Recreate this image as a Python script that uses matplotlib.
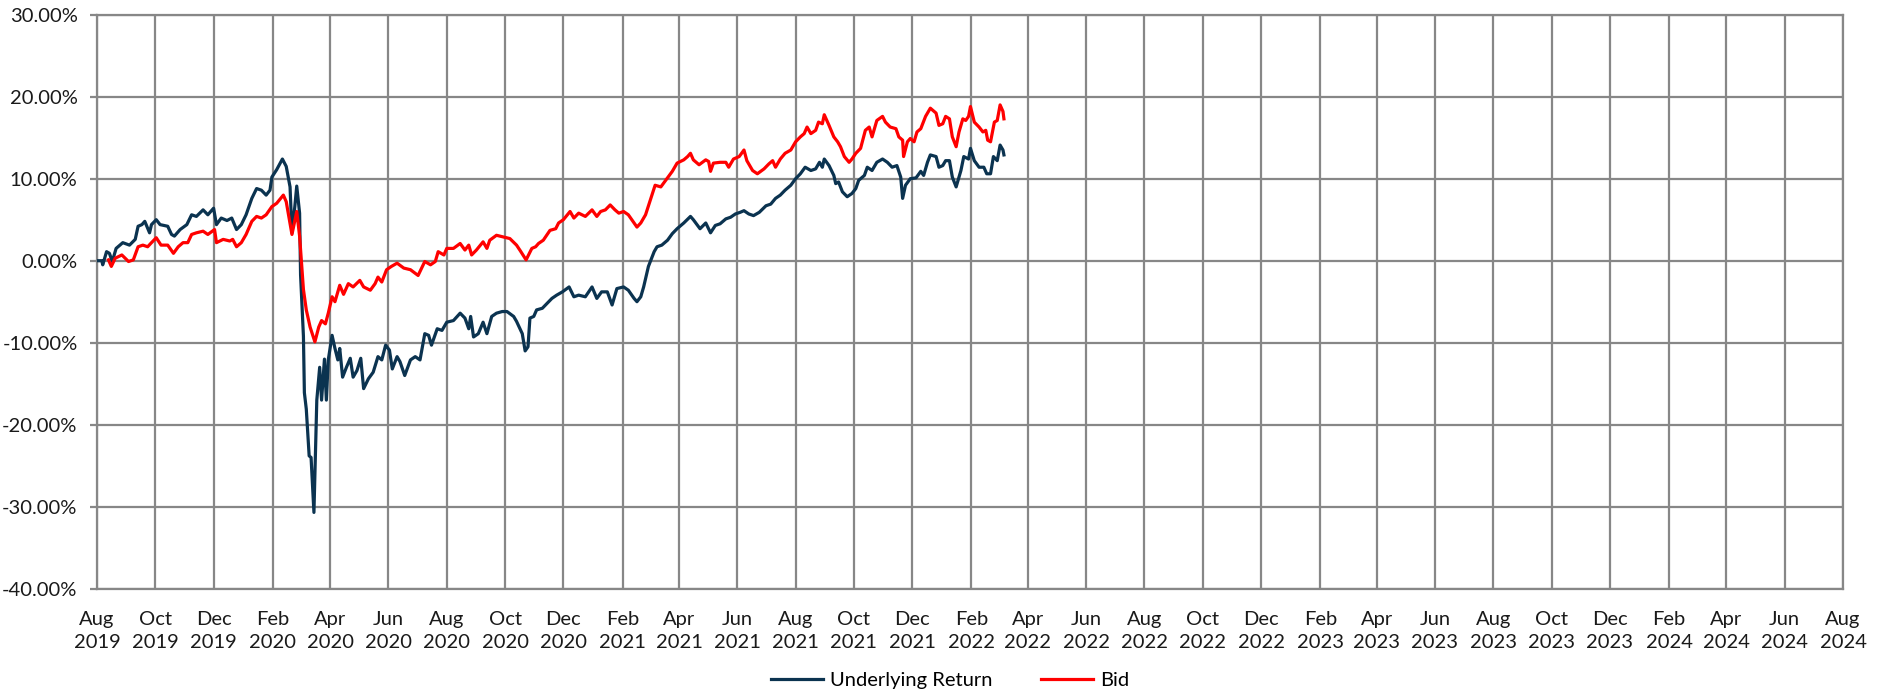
import matplotlib
matplotlib.use("Agg")
import matplotlib.pyplot as plt
import matplotlib.dates as mdates
import pandas as pd

# ---- data (days since 2019-08-01, percent values) ----
start_date = "2019-08-01"

under_days = [0, 5, 6, 10, 13, 16, 20, 27, 34, 40, 43, 47, 50, 55, 57, 62, 66, 74, 78, 81, 87, 94, 99, 104,
              111, 116, 122, 125, 130, 136, 141, 146, 151, 156, 162, 167, 172, 177, 181, 183, 188, 194, 198,
              202, 204, 207, 209, 212, 213, 216, 217, 219, 222, 224, 227, 230, 233, 235, 238, 240, 242, 246,
              249, 252, 254, 257, 261, 265, 268, 272, 276, 279, 284, 289, 294, 298, 302, 306, 309, 314, 317,
              322, 328, 333, 338, 343, 347, 350, 356, 361, 366, 373, 380, 385, 389, 391, 394, 399, 404, 408,
              413, 418, 424, 429, 436, 439, 445, 448, 451, 453, 457, 460, 466, 471, 476, 481, 487, 494, 499,
              504, 511, 518, 523, 528, 534, 539, 544, 551, 556, 562, 565, 569, 572, 577, 583, 586, 591, 597,
              602, 607, 614, 621, 624, 631, 637, 642, 647, 652, 658, 663, 668, 673, 677, 682, 687, 693, 700,
              705, 710, 715, 720, 726, 731, 736, 741, 747, 752, 756, 759, 761, 766, 771, 773, 776, 780, 785,
              790, 794, 797, 803, 806, 811, 816, 822, 827, 832, 837, 841, 843, 846, 851, 857, 862, 865, 869,
              872, 878, 881, 885, 888, 892, 895, 899, 904, 907, 912, 914, 918, 923, 928, 931, 935, 938, 942,
              945, 948, 949]
under_vals = [0.0, 0.0, -0.5, 1.1, 0.9, -0.1, 1.5, 2.2, 1.9, 2.6, 4.2, 4.4, 4.8, 3.4, 4.4, 5.0, 4.4, 4.2, 3.2,
              3.0, 3.8, 4.4, 5.6, 5.4, 6.2, 5.6, 6.4, 4.4, 5.2, 4.9, 5.2, 3.8, 4.4, 5.6, 7.6, 8.8, 8.6, 8.0,
              8.6, 10.2, 11.1, 12.4, 11.5, 9.0, 3.4, 6.6, 9.1, 5.8, -1.7, -9.2, -16.1, -18.1, -23.8, -24.0,
              -30.7, -17.0, -13.0, -17.0, -12.0, -17.0, -12.1, -9.1, -10.7, -12.1, -10.7, -14.2, -13.0, -11.9,
              -14.2, -13.4, -11.9, -15.6, -14.4, -13.6, -11.7, -12.1, -10.3, -10.9, -13.2, -11.7, -12.3, -14.0,
              -12.1, -11.7, -12.1, -8.9, -9.1, -10.3, -8.3, -8.5, -7.5, -7.3, -6.4, -7.0, -8.3, -6.8, -9.3,
              -8.9, -7.5, -8.9, -6.8, -6.4, -6.2, -6.2, -6.8, -7.4, -8.9, -11.0, -10.5, -7.0, -6.8, -6.0, -5.8,
              -5.2, -4.6, -4.2, -3.8, -3.2, -4.4, -4.2, -4.4, -3.2, -4.6, -3.8, -3.8, -5.4, -3.4, -3.2, -3.6,
              -4.6, -5.0, -4.4, -3.2, -0.7, 1.1, 1.7, 1.9, 2.5, 3.3, 3.9, 4.6, 5.4, 5.0, 3.9, 4.6, 3.4, 4.3,
              4.5, 5.1, 5.3, 5.7, 5.9, 6.1, 5.7, 5.5, 5.9, 6.7, 6.9, 7.6, 8.0, 8.6, 9.2, 10.0, 10.6, 11.4,
              11.0, 11.2, 12.0, 11.4, 12.4, 11.6, 10.4, 9.4, 9.6, 8.4, 7.8, 8.2, 8.8, 9.8, 10.4, 11.4, 11.0,
              12.0, 12.4, 12.0, 11.4, 11.6, 10.2, 7.6, 9.2, 10.0, 10.1, 10.9, 10.4, 12.0, 12.9, 12.7, 11.4,
              11.6, 12.2, 12.2, 10.2, 9.0, 11.0, 12.7, 12.4, 13.7, 12.2, 11.4, 11.4, 10.6, 10.6, 12.7, 12.2,
              14.1, 13.5, 12.9]

bid_days = [12, 15, 19, 26, 33, 38, 43, 48, 53, 57, 62, 67, 74, 80, 85, 90, 95, 99, 104, 111, 116, 123, 125,
            132, 139, 142, 146, 151, 156, 162, 167, 172, 177, 183, 188, 195, 198, 204, 209, 212, 216, 219, 223,
            228, 232, 235, 239, 242, 246, 249, 254, 258, 263, 268, 275, 279, 286, 291, 294, 298, 303, 308, 314,
            321, 328, 336, 343, 349, 354, 357, 363, 366, 373, 380, 385, 389, 392, 397, 404, 408, 411, 418, 425,
            432, 439, 443, 449, 455, 459, 462, 467, 474, 480, 483, 488, 495, 499, 504, 511, 518, 523, 527, 532,
            537, 542, 546, 551, 556, 562, 565, 569, 574, 579, 584, 590, 595, 602, 607, 614, 618, 621, 624, 630,
            637, 640, 642, 645, 652, 658, 661, 666, 672, 677, 680, 686, 691, 698, 703, 707, 710, 715, 720, 726,
            731, 736, 740, 743, 747, 752, 755, 759, 761, 766, 771, 775, 778, 782, 787, 790, 794, 799, 804, 808,
            811, 816, 822, 825, 830, 836, 839, 843, 844, 848, 851, 855, 858, 862, 867, 872, 878, 881, 885, 888,
            892, 895, 899, 902, 906, 909, 912, 914, 918, 923, 927, 930, 932, 935, 939, 942, 945, 948, 949]
bid_vals = [0.1, -0.7, 0.3, 0.7, -0.1, 0.1, 1.7, 1.9, 1.7, 2.2, 2.8, 1.9, 1.9, 0.9, 1.7, 2.2, 2.2, 3.2, 3.4,
            3.6, 3.2, 3.8, 2.2, 2.6, 2.4, 2.6, 1.7, 2.2, 3.2, 4.8, 5.4, 5.2, 5.6, 6.6, 7.0, 8.0, 7.2, 3.2, 6.0,
            3.0, -3.5, -6.0, -8.1, -9.9, -8.1, -7.3, -7.7, -6.4, -4.4, -5.0, -3.0, -4.1, -2.8, -3.2, -2.4, -3.2,
            -3.6, -2.8, -2.0, -2.6, -1.1, -0.7, -0.3, -0.9, -1.1, -1.8, -0.1, -0.5, -0.1, 1.1, 0.7, 1.5, 1.5,
            2.1, 1.3, 1.9, 0.7, 1.3, 2.3, 1.5, 2.5, 3.1, 2.9, 2.7, 1.9, 1.2, 0.1, 1.5, 1.7, 2.1, 2.5, 3.7, 3.9,
            4.6, 5.0, 6.0, 5.2, 5.8, 5.4, 6.2, 5.4, 6.0, 6.2, 6.8, 6.2, 5.8, 6.0, 5.6, 4.6, 4.1, 4.6, 5.6, 7.4,
            9.2, 9.0, 9.8, 10.9, 11.9, 12.3, 12.7, 13.1, 12.3, 11.7, 12.3, 12.1, 10.9, 11.9, 12.0, 12.0, 11.4,
            12.4, 12.7, 13.5, 12.2, 11.0, 10.6, 11.2, 11.8, 12.2, 11.4, 12.4, 13.1, 13.5, 14.5, 15.1, 15.5,
            16.3, 15.5, 15.9, 16.9, 16.7, 17.8, 16.5, 15.1, 14.5, 13.9, 12.7, 12.0, 12.4, 13.1, 13.7, 15.9,
            16.3, 15.1, 17.1, 17.6, 16.9, 16.3, 16.1, 15.1, 14.7, 12.7, 14.5, 14.9, 14.5, 15.7, 16.1, 17.6,
            18.6, 18.0, 16.5, 16.7, 17.6, 17.3, 15.1, 13.9, 15.7, 17.3, 17.1, 17.6, 18.8, 16.9, 16.3, 15.7,
            15.9, 14.7, 14.5, 16.9, 17.1, 19.0, 18.2, 17.3]

series_names = ["Underlying Return", "Bid"]
series_colors = ["#0B3350", "#FF0000"]
y_ticks = [-40, -30, -20, -10, 0, 10, 20, 30]
x_start, x_end = "2019-08-01", "2024-08-01"

# ---- build ----
base = pd.Timestamp(start_date)
under_x = base + pd.to_timedelta(under_days, unit="D")
bid_x = base + pd.to_timedelta(bid_days, unit="D")

plt.rcParams['font.family'] = ['Lato', 'DejaVu Sans']
W, H = 1877, 692
fig = plt.figure(figsize=(W / 100, H / 100), dpi=100)
ax = fig.add_axes([97 / W, 1 - 588.7 / H, (1843 - 97) / W, (588.7 - 14.7) / H])

grid_c = "#878787"
ax.plot(under_x, under_vals, color=series_colors[0], lw=2.3, label=series_names[0], zorder=3)
ax.plot(bid_x, bid_vals, color=series_colors[1], lw=2.3, label=series_names[1], zorder=4)

ax.set_xlim(pd.Timestamp(x_start), pd.Timestamp(x_end))
ax.set_ylim(-40, 30)
ax.set_yticks(y_ticks)
ax.set_yticklabels([f"{v:.2f}%" for v in y_ticks])
ax.xaxis.set_major_locator(mdates.MonthLocator(bymonth=[2, 4, 6, 8, 10, 12], bymonthday=1))
ax.xaxis.set_major_formatter(mdates.DateFormatter("%b\n%Y"))

ax.grid(True, color=grid_c, lw=1.6, zorder=0)
for s in ax.spines.values():
    s.set_color(grid_c)
    s.set_linewidth(1.6)
ax.tick_params(axis='y', length=5, width=1.6, color=grid_c, pad=9, labelsize=14.5, labelcolor="#1a1a1a")
ax.tick_params(axis='x', length=0, pad=16, labelsize=14.5, labelcolor="#1a1a1a")
for lbl in ax.get_xticklabels():
    lbl.set_linespacing(1.4)

fig.legend(loc='center', bbox_to_anchor=(950 / W, 1 - 680 / H), ncol=2, frameon=False,
           fontsize=14.5, handlelength=2.6, handletextpad=0.35, columnspacing=2.4)

fig.savefig("out.png", dpi=100)
